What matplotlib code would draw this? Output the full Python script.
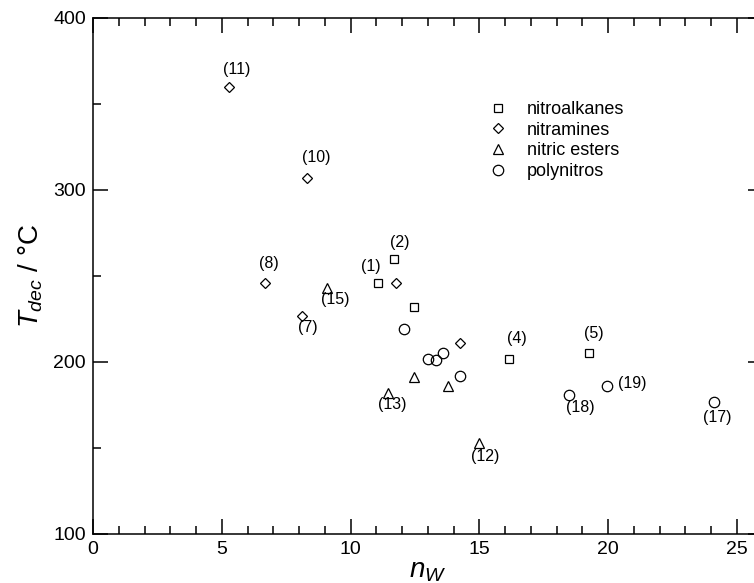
import matplotlib
matplotlib.use('Agg')
import matplotlib.pyplot as plt

plt.rcParams['font.family'] = ['Liberation Sans', 'DejaVu Sans']
plt.rcParams['mathtext.fontset'] = 'custom'
plt.rcParams['mathtext.rm'] = 'Liberation Sans'
plt.rcParams['mathtext.it'] = 'Liberation Sans:italic'

# data
nitroalkanes_x = [11.07, 11.69, 12.47, 16.16, 19.26]
nitroalkanes_y = [246, 260, 232, 202, 205]
nitroalkanes_lab = ['(1)', '(2)', '', '(4)', '(5)']

nitramines_x = [5.28, 8.31, 6.68, 8.12, 11.77, 14.25]
nitramines_y = [360, 307, 246, 227, 246, 211]
nitramines_lab = ['(11)', '(10)', '(8)', '(7)', '', '']

esters_x = [9.09, 11.46, 12.47, 13.79, 14.99]
esters_y = [243, 182, 191, 186, 153]
esters_lab = ['(15)', '(13)', '', '', '(12)']

polynitros_x = [12.08, 13.0, 13.32, 13.59, 14.25, 18.49, 19.96, 24.12]
polynitros_y = [219, 202, 201, 205, 192, 181, 186, 177]
polynitros_lab = ['', '', '', '', '', '(18)', '(19)', '(17)']

# where each number label sits relative to its point (pixels)
label_offset = {
    '(1)': (-7, 16), '(2)': (6, 16), '(4)': (8, 20), '(5)': (5, 20),
    '(11)': (8, 17), '(10)': (9, 20), '(8)': (4, 19), '(7)': (6, -12),
    '(15)': (8, -11), '(13)': (4, -12), '(12)': (6, -14),
    '(18)': (11, -13), '(19)': (25, 3), '(17)': (3, -16),
}

fig = plt.figure(figsize=(7.54, 5.83), dpi=100)
ax = fig.add_axes([93 / 754, 49 / 583, 669.5 / 754, 516 / 583])

series = [
    (nitroalkanes_x, nitroalkanes_y, nitroalkanes_lab, 's', 6.2, 'nitroalkanes'),
    (nitramines_x, nitramines_y, nitramines_lab, 'D', 5.2, 'nitramines'),
    (esters_x, esters_y, esters_lab, '^', 7.2, 'nitric esters'),
    (polynitros_x, polynitros_y, polynitros_lab, 'o', 7.5, 'polynitros'),
]

for xs, ys, labs, m, ms, name in series:
    ax.plot(xs, ys, linestyle='none', marker=m, markersize=ms,
            markerfacecolor='none', markeredgecolor='black',
            markeredgewidth=0.9, label=name)
    for x, y, t in zip(xs, ys, labs):
        if t:
            ax.annotate(t, (x, y), xytext=label_offset[t],
                        textcoords='offset pixels', ha='center', va='center',
                        fontsize=11.5)

ax.set_xlim(0, 26)
ax.set_ylim(100, 400)
ax.set_xticks([0, 5, 10, 15, 20, 25])
ax.set_xticks(range(0, 27), minor=True)
ax.set_yticks([100, 200, 300, 400])
ax.set_yticks([150, 250, 350], minor=True)
ax.tick_params(which='both', direction='in', top=True, right=True,
               labelsize=14, width=1.1, pad=5)
ax.tick_params(which='major', length=11)
ax.tick_params(which='minor', length=5.5)
for s in ax.spines.values():
    s.set_linewidth(1.1)

ax.set_xlabel('$n_W$', fontsize=20, labelpad=0)
ax.set_ylabel('$T_{dec}$ / °C', fontsize=20, labelpad=6)

ax.legend(frameon=False, loc='upper left', bbox_to_anchor=(0.5915, 0.839),
          fontsize=13, borderpad=0, handlelength=1.0, handletextpad=1.1,
          labelspacing=0.2, borderaxespad=0)

fig.savefig('out.png', dpi=100)
